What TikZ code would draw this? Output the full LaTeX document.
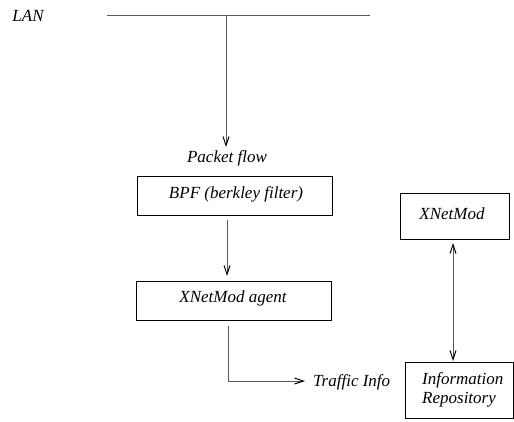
\documentclass[tikz,border=0pt]{standalone}
\usepackage{fontspec}
\setmainfont{Liberation Serif}
\usetikzlibrary{arrows.meta}
\begin{document}
\begin{tikzpicture}[x=1pt,y=-1pt,
  lbl/.style={font=\fontsize{17}{19}\selectfont\itshape, inner sep=0pt},
  box/.style={draw=black, line width=0.8pt, inner sep=0pt},
  wire/.style={draw=gray!70!black, line width=1pt},
  tip/.style={-{Straight Barb[length=9pt,width=6pt,black]}},
  ]
\useasboundingbox (0,0) rectangle (514,421);
\node[lbl] (lan) at (28,16) {LAN};
\coordinate (lanL) at (107,15);
\coordinate (lanR) at (370,15);
\coordinate (lanT) at (226,15);
\draw[wire] (lanL) -- (lanR);
\node[lbl] (pf) at (227,158) {Packet flow};
\draw[wire,tip] (lanT) -- (226,147);
\node[box, minimum width=195pt, minimum height=39pt] (bpf) at (234.5,195.5) {};
\node[lbl] (bpft) at (236,194) {BPF (berkley filter)};
\node[box, minimum width=195pt, minimum height=39pt] (agent) at (233.5,300.5) {};
\node[lbl] (agentt) at (233,298) {XNetMod agent};
\draw[wire,tip] (227,220) -- (227,276);
\node[lbl, anchor=west] (ti) at (313,382) {Traffic Info};
\draw[wire,tip] (228,326) -- (228,381) -- (305,381);
\node[box, minimum width=109pt, minimum height=46pt] (xnm) at (454.5,216) {};
\node[lbl] (xnmt) at (452,214) {XNetMod};
\node[box, minimum width=108pt, minimum height=56pt] (ir) at (459,390) {};
\node[lbl, align=left, anchor=west] (irt) at (422,390) {Information\\Repository};
\draw[wire,{Straight Barb[length=9pt,width=6pt,black]}-{Straight Barb[length=9pt,width=6pt,black]}] (453,243) -- (453,361);
\end{tikzpicture}
\end{document}
